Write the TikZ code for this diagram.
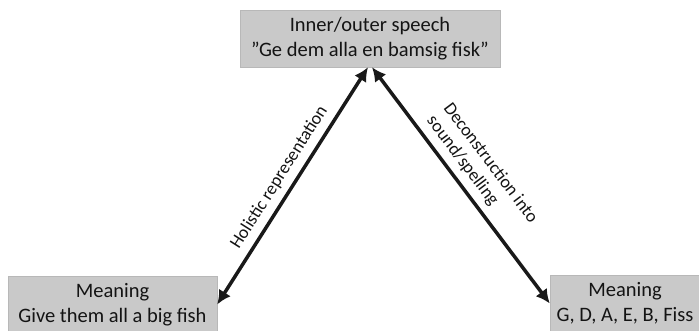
\documentclass[tikz,border=0pt]{standalone}
\usepackage{fontspec}
\setmainfont{Carlito}
\usepackage{tikz}
\usetikzlibrary{arrows.meta}
\tikzset{box/.style={rectangle, draw=black!28, fill=black!21, text=black!92, font=\fontsize{20.5}{25}\selectfont, align=center, inner sep=0pt}}
\tikzset{link/.style={line width=3.5pt, black!90, {Latex[length=14pt,width=14pt]}-{Latex[length=14pt,width=14pt]}}}
\tikzset{tag/.style={font=\fontsize{18}{21}\selectfont, text=black!92, sloped, above=3pt}}

\begin{document}
\begin{tikzpicture}[x=1pt,y=-1pt]
	\useasboundingbox (0,0) rectangle (699,331);
	\node[box, minimum width=260pt, minimum height=57pt] (speech) at (370,38.5) {Inner/outer speech\\”Ge dem alla en bamsig fisk”};
	\node[box, minimum width=209pt, minimum height=57pt] (whole) at (112.5,304.5) {Meaning\\Give them all a big fish};
	\node[box, minimum width=150pt, minimum height=57pt] (parts) at (625,303.5) {Meaning\\G, D, A, E, B, Fiss};
	\draw[link] (whole.east) -- node[tag, pos=0.5] {Holistic representation} ([xshift=-2pt]speech.south);
	\draw[link] ([xshift=2pt]speech.south) -- node[tag, pos=0.5, align=left] {Deconstruction into\\sound/spelling} (parts.west);
\end{tikzpicture}
\end{document}
